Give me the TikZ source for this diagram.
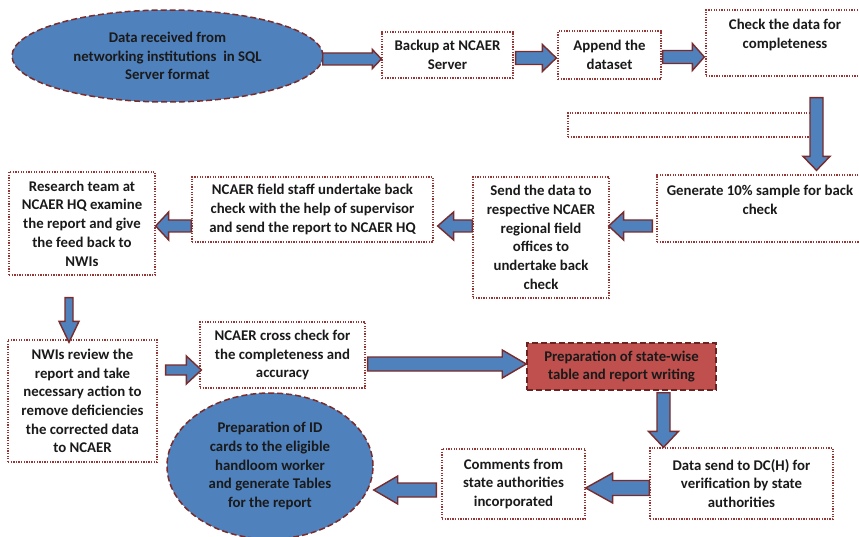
\documentclass[tikz,border=0pt]{standalone}
\usepackage{fontspec}
\setmainfont{Carlito}
\usetikzlibrary{calc,shapes.geometric}
\definecolor{ablue}{HTML}{4F81BD}
\definecolor{aline}{HTML}{7A2B2B}
\definecolor{dotred}{HTML}{953735}
\definecolor{pred}{HTML}{C0504D}
\definecolor{pborder}{HTML}{6B2322}
\definecolor{txt}{HTML}{1A1A1A}
\tikzset{
  every node/.style={font=\fontsize{14.8}{18.7}\selectfont\bfseries, text=txt, align=center, inner sep=0pt},
  box/.style={rectangle, draw=dotred, line width=1.3pt, dash pattern=on 1.3pt off 1.3pt, fill=white},
  oval/.style={ellipse, draw=aline, fill=ablue, line width=1.5pt, dash pattern=on 6pt off 3pt},
  hot/.style={rectangle, draw=pborder, fill=pred, line width=1.5pt, dash pattern=on 6pt off 3pt},
  barrow/.style={fill=ablue, draw=aline, line width=1.4pt, line join=miter},
}
% #1 start, #2 end, #3 half shaft width, #4 half head width, #5 head length
\newcommand\blockarrow[5]{%
  \coordinate (ba-s) at #1;
  \coordinate (ba-e) at #2;
  \coordinate (ba-n) at ($(ba-e)!#5!(ba-s)$);
  \filldraw[barrow] ($(ba-s)!#3!90:(ba-e)$) -- ($(ba-n)!#3!90:(ba-e)$) -- ($(ba-n)!#4!90:(ba-e)$)
    -- (ba-e) -- ($(ba-n)!#4!-90:(ba-e)$) -- ($(ba-n)!#3!-90:(ba-e)$) -- ($(ba-s)!#3!-90:(ba-e)$) -- cycle;
}
\begin{document}
\begin{tikzpicture}[x=1pt,y=-1pt]
\useasboundingbox (0,0) rectangle (859,537);
\clip (0,0) rectangle (859,537);
\fill[white] (0,0) rectangle (859,537);
% top row
\node[oval, minimum width=311pt, minimum height=92pt] (ell1) at (167.5,56) {Data received from\\networking institutions\ \ in SQL\\Server format};
\node[box, minimum width=131pt, minimum height=46pt] (backup) at (447.5,55) {Backup at NCAER\\Server};
\node[box, minimum width=103pt, minimum height=48pt] (append) at (609.5,55) {Append the\\dataset};
\node[box, minimum width=156pt, minimum height=66pt] (check) at (784,43) {};
\node (checkt) at (785,35) {Check the data for\\completeness};
\node[box, minimum width=252pt, minimum height=24pt] (blank) at (694,125) {};
% second row
\node[box, minimum width=205pt, minimum height=67pt] (generate) at (759.5,208.5) {};
\node (generatet) at (760,200) {Generate 10\% sample for back\\check};
\node[box, minimum width=136pt, minimum height=121pt] (send) at (541,237.5) {Send the data to\\respective NCAER\\regional field\\offices to\\undertake back\\check};
\node[box, minimum width=241pt, minimum height=65pt] (field) at (312.5,209.5) {NCAER field staff undertake back\\check with the help of supervisor\\and send the report to NCAER HQ};
\node[box, minimum width=146pt, minimum height=103pt] (research) at (82,223.5) {Research team at\\NCAER HQ examine\\the report and give\\the feed back to\\NWIs};
% third row
\node[box, minimum width=149pt, minimum height=122pt] (nwis) at (82.5,401) {NWIs review the\\report and take\\necessary action to\\remove deficiencies\\the corrected data\\to NCAER};
\node[box, minimum width=165pt, minimum height=66pt] (cross) at (282.5,355) {NCAER cross check for\\the completeness and\\accuracy};
\node[hot, minimum width=189pt, minimum height=47pt] (prep) at (621.5,366.5) {Preparation of state-wise\\table and report writing};
% bottom row
\node[box, minimum width=183pt, minimum height=71pt] (datasend) at (741.5,483.5) {Data send to DC(H) for\\verification by state\\authorities};
\node[box, minimum width=143pt, minimum height=70pt] (comments) at (513.5,484) {Comments from\\state authorities\\incorporated};
\node[oval, minimum width=206pt, minimum height=146pt] (ell2) at (270,466) {Preparation of ID\\cards to the eligible\\handloom worker\\and generate Tables\\for the report};
% arrows
\blockarrow{($(ell1.east)+(-1,3)$)}{($(backup.west)+(0,4)$)}{6pt}{9.5pt}{9pt}
\blockarrow{($(backup.east)+(2,3)$)}{($(append.west)+(-1,3)$)}{6.5pt}{13.5pt}{14pt}
\blockarrow{($(append.east)+(1,2)$)}{($(check.west)+(-1,14)$)}{6.5pt}{13.5pt}{12pt}
\blockarrow{($(check.south)+(32.5,21)$)}{($(generate.north)+(57,-4)$)}{6.5pt}{13.5pt}{14pt}
\blockarrow{($(generate.west)+(-4,17.5)$)}{($(send.east)+(-1,-11.5)$)}{6pt}{14pt}{15pt}
\blockarrow{($(send.west)+(0,-11.5)$)}{($(field.east)+(4,16.5)$)}{6pt}{14pt}{16pt}
\blockarrow{($(field.west)+(0,16.5)$)}{($(research.east)+(0,2.5)$)}{6pt}{14pt}{13pt}
\blockarrow{($(research.south)+(-13,22)$)}{($(nwis.north)+(-13.5,3)$)}{4pt}{10pt}{21pt}
\blockarrow{($(nwis.east)+(8,-31)$)}{($(cross.west)+(2,15)$)}{5pt}{14pt}{15pt}
\blockarrow{($(cross.east)+(2,9)$)}{($(prep.west)+(0,-2.5)$)}{7pt}{14pt}{24pt}
\blockarrow{($(prep.south)+(42,2)$)}{($(datasend.north)+(-78,0)$)}{6.5pt}{15pt}{16pt}
\blockarrow{($(datasend.west)+(0,4.5)$)}{($(comments.east)+(0,4)$)}{7.5pt}{15pt}{27pt}
\blockarrow{($(comments.west)+(-5,6)$)}{($(ell2.east)+(0,24)$)}{7pt}{14pt}{24pt}
\end{tikzpicture}
\end{document}
